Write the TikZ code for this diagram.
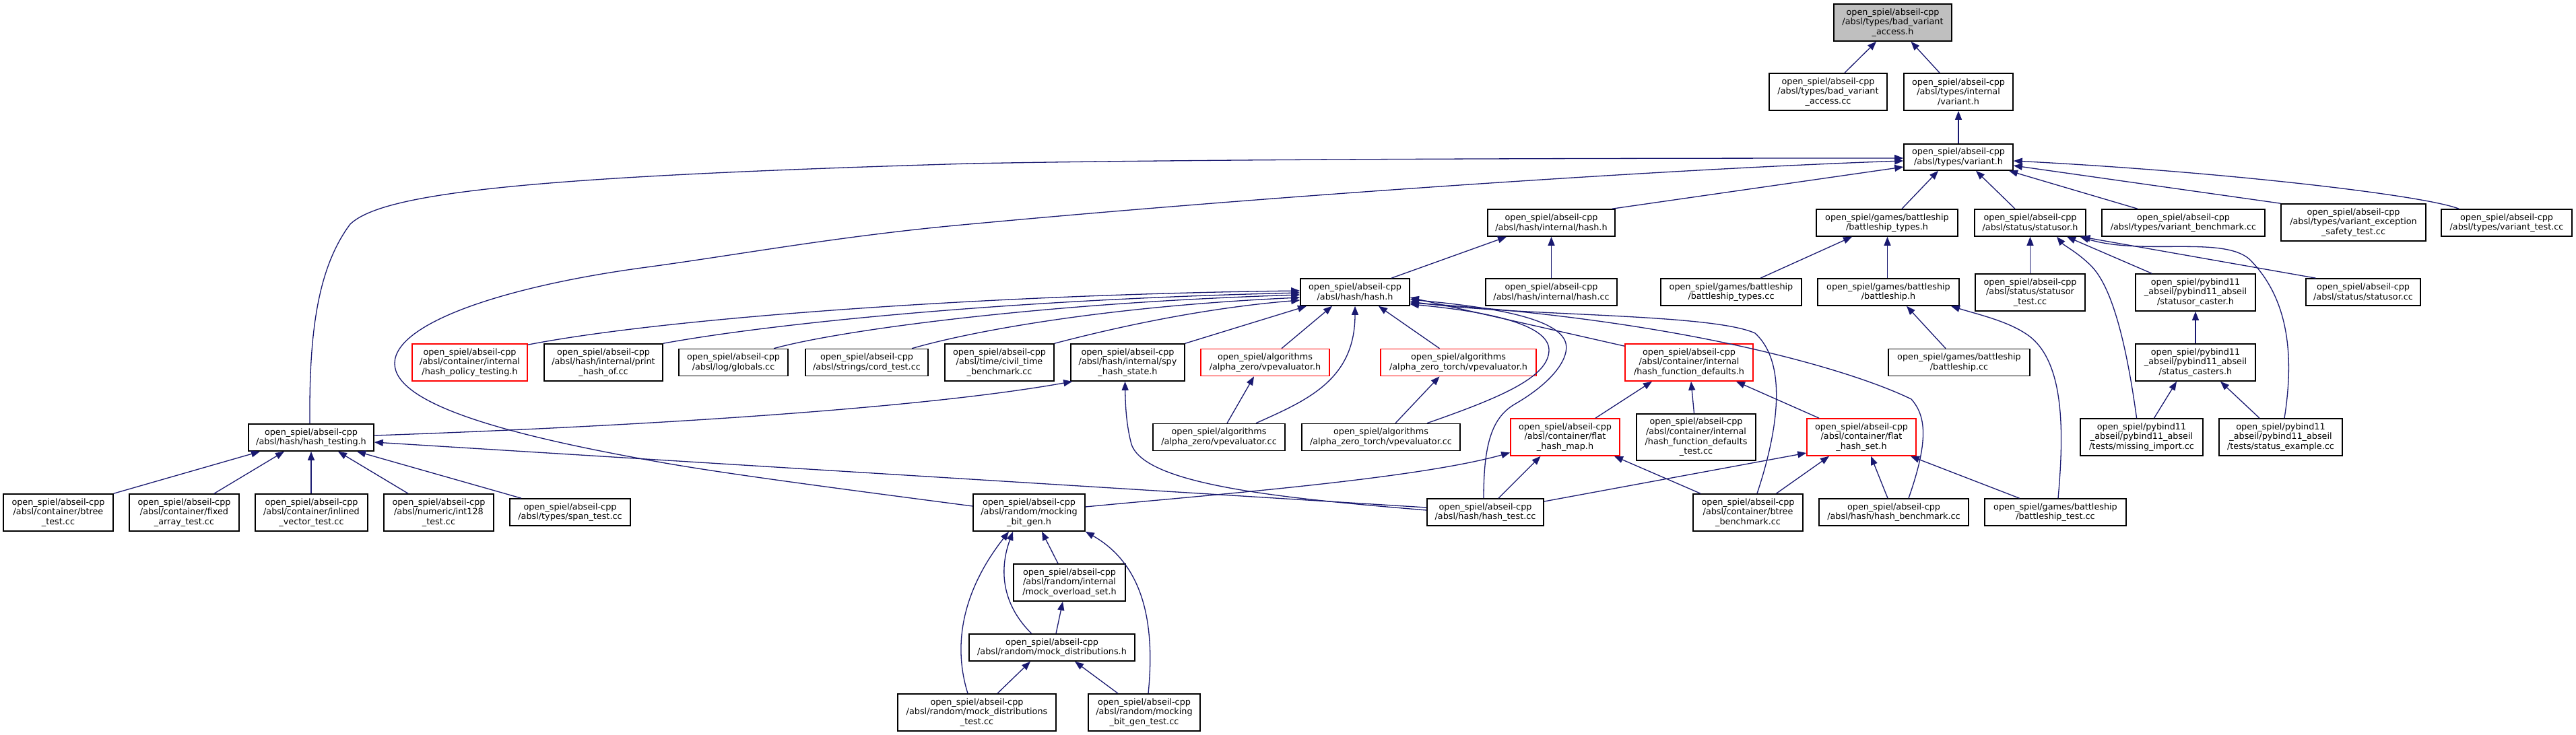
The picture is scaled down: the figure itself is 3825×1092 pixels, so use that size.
\documentclass[tikz,border=0pt]{standalone}
\usepackage{fontspec}
\setmainfont{DejaVu Sans}
\usetikzlibrary{arrows.meta}
\definecolor{edgeblue}{HTML}{191970}
\definecolor{rootgray}{HTML}{BFBFBF}
\begin{document}
\begin{tikzpicture}[x=1pt,y=-1pt,
  box/.style={draw=black, line width=1.6pt, fill=white, inner sep=0pt, align=center,
    font=\fontsize{12.8pt}{14.6pt}\selectfont, text=black},
  redbox/.style={box, draw=red},
  rootbox/.style={box, fill=rootgray},
  sz/.style 2 args={minimum width=#1pt, minimum height=#2pt},
  dep/.style={draw=edgeblue, line width=1.3pt, -{Triangle[length=13pt,width=10pt]}},
]
\useasboundingbox (0,0) rectangle (3825,1092);
\fill[white] (0,0) rectangle (3825,1092);

% rank 0-2
\node[rootbox, sz={175}{55}] (root) at (2810.5,33.5) {open\_spiel/abseil-cpp\\/absl/types/bad\_variant\\\_access.h};
\node[box, sz={175}{55}] (bvacc) at (2714.5,136.5) {open\_spiel/abseil-cpp\\/absl/types/bad\_variant\\\_access.cc};
\node[box, sz={162}{55}] (ivariant) at (2908,136.5) {open\_spiel/abseil-cpp\\/absl/types/internal\\/variant.h};
\node[box, sz={162}{39}] (variant) at (2908,233.5) {open\_spiel/abseil-cpp\\/absl/types/variant.h};
% rank 3
\node[box, sz={189}{40}] (ihash) at (2303.5,331) {open\_spiel/abseil-cpp\\/absl/hash/internal/hash.h};
\node[box, sz={210}{40}] (bsth) at (2802,331) {open\_spiel/games/battleship\\/battleship\_types.h};
\node[box, sz={165}{40}] (statusorh) at (3014.5,331) {open\_spiel/abseil-cpp\\/absl/status/statusor.h};
\node[box, sz={242}{40}] (vbench) at (3242,331) {open\_spiel/abseil-cpp\\/absl/types/variant\_benchmark.cc};
\node[box, sz={215}{55}] (vexc) at (3494.5,330.5) {open\_spiel/abseil-cpp\\/absl/types/variant\_exception\\\_safety\_test.cc};
\node[box, sz={194}{40}] (vtest) at (3722,331) {open\_spiel/abseil-cpp\\/absl/types/variant\_test.cc};
% rank 4
\node[box, sz={162}{40}] (hashh) at (2012,434) {open\_spiel/abseil-cpp\\/absl/hash/hash.h};
\node[box, sz={195}{40}] (ihashcc) at (2303.5,434) {open\_spiel/abseil-cpp\\/absl/hash/internal/hash.cc};
\node[box, sz={209}{40}] (bstcc) at (2570.5,434) {open\_spiel/games/battleship\\/battleship\_types.cc};
\node[box, sz={210}{40}] (bsh) at (2804,434) {open\_spiel/games/battleship\\/battleship.h};
\node[box, sz={163}{55}] (statusortest) at (3014.5,434.5) {open\_spiel/abseil-cpp\\/absl/status/statusor\\\_test.cc};
\node[box, sz={178}{55}] (caster) at (3260,434.5) {open\_spiel/pybind11\\\_abseil/pybind11\_abseil\\/statusor\_caster.h};
\node[box, sz={170}{40}] (statusorcc) at (3509,434) {open\_spiel/abseil-cpp\\/absl/status/statusor.cc};
% rank 5
\node[redbox, sz={171}{55}] (hpt) at (697.5,538.5) {open\_spiel/abseil-cpp\\/absl/container/internal\\/hash\_policy\_testing.h};
\node[box, sz={176}{55}] (print) at (896,538.5) {open\_spiel/abseil-cpp\\/absl/hash/internal/print\\\_hash\_of.cc};
\node[box, sz={162}{40}] (globals) at (1089,538.5) {open\_spiel/abseil-cpp\\/absl/log/globals.cc};
\node[box, sz={182}{40}] (cord) at (1287,538.5) {open\_spiel/abseil-cpp\\/absl/strings/cord\_test.cc};
\node[box, sz={162}{55}] (civil) at (1484,538.5) {open\_spiel/abseil-cpp\\/absl/time/civil\_time\\\_benchmark.cc};
\node[box, sz={169}{55}] (spy) at (1674.5,538.5) {open\_spiel/abseil-cpp\\/absl/hash/internal/spy\\\_hash\_state.h};
\node[redbox, sz={191}{40}] (azvh) at (1878.5,538.5) {open\_spiel/algorithms\\/alpha\_zero/vpevaluator.h};
\node[redbox, sz={231}{40}] (aztvh) at (2165.5,538.5) {open\_spiel/algorithms\\/alpha\_zero\_torch/vpevaluator.h};
\node[redbox, sz={190}{55}] (hfd) at (2508,538.5) {open\_spiel/abseil-cpp\\/absl/container/internal\\/hash\_function\_defaults.h};
\node[box, sz={210}{40}] (bscc) at (2909,538.5) {open\_spiel/games/battleship\\/battleship.cc};
\node[box, sz={178}{55}] (casters) at (3260,538.5) {open\_spiel/pybind11\\\_abseil/pybind11\_abseil\\/status\_casters.h};
% rank 6
\node[box, sz={186}{40}] (hashtesting) at (462,650) {open\_spiel/abseil-cpp\\/absl/hash/hash\_testing.h};
\node[box, sz={196}{40}] (azvcc) at (1810,649.5) {open\_spiel/algorithms\\/alpha\_zero/vpevaluator.cc};
\node[box, sz={235}{40}] (aztvcc) at (2050.5,649.5) {open\_spiel/algorithms\\/alpha\_zero\_torch/vpevaluator.cc};
\node[redbox, sz={162}{55}] (fhm) at (2324,649.5) {open\_spiel/abseil-cpp\\/absl/container/flat\\\_hash\_map.h};
\node[box, sz={177}{69}] (hfdt) at (2518.5,649.5) {open\_spiel/abseil-cpp\\/absl/container/internal\\/hash\_function\_defaults\\\_test.cc};
\node[redbox, sz={162}{55}] (fhs) at (2764,649.5) {open\_spiel/abseil-cpp\\/absl/container/flat\\\_hash\_set.h};
\node[box, sz={182}{55}] (missing) at (3180,649.5) {open\_spiel/pybind11\\\_abseil/pybind11\_abseil\\/tests/missing\_import.cc};
\node[box, sz={183}{55}] (example) at (3386.5,649.5) {open\_spiel/pybind11\\\_abseil/pybind11\_abseil\\/tests/status\_example.cc};
% rank 7
\node[box, sz={163}{55}] (btreetest) at (86.5,761.5) {open\_spiel/abseil-cpp\\/absl/container/btree\\\_test.cc};
\node[box, sz={163}{55}] (fixed) at (273.5,761.5) {open\_spiel/abseil-cpp\\/absl/container/fixed\\\_array\_test.cc};
\node[box, sz={167}{55}] (inlined) at (462.5,761.5) {open\_spiel/abseil-cpp\\/absl/container/inlined\\\_vector\_test.cc};
\node[box, sz={163}{55}] (int128) at (651.5,761.5) {open\_spiel/abseil-cpp\\/absl/numeric/int128\\\_test.cc};
\node[box, sz={179}{40}] (span) at (846.5,761) {open\_spiel/abseil-cpp\\/absl/types/span\_test.cc};
\node[box, sz={166}{55}] (mbg) at (1528,761.5) {open\_spiel/abseil-cpp\\/absl/random/mocking\\\_bit\_gen.h};
\node[box, sz={173}{40}] (hashtest) at (2205.5,761) {open\_spiel/abseil-cpp\\/absl/hash/hash\_test.cc};
\node[box, sz={163}{55}] (btreebench) at (2595.5,761.5) {open\_spiel/abseil-cpp\\/absl/container/btree\\\_benchmark.cc};
\node[box, sz={222}{40}] (hashbench) at (2812,761) {open\_spiel/abseil-cpp\\/absl/hash/hash\_benchmark.cc};
\node[box, sz={210}{40}] (bstest) at (3052,761) {open\_spiel/games/battleship\\/battleship\_test.cc};
% rank 8-10
\node[box, sz={166}{55}] (overload) at (1588,865.5) {open\_spiel/abseil-cpp\\/absl/random/internal\\/mock\_overload\_set.h};
\node[box, sz={246}{40}] (mockdist) at (1562,962) {open\_spiel/abseil-cpp\\/absl/random/mock\_distributions.h};
\node[box, sz={235}{55}] (mdtest) at (1450.5,1058.5) {open\_spiel/abseil-cpp\\/absl/random/mock\_distributions\\\_test.cc};
\node[box, sz={166}{55}] (mbgtest) at (1699,1058.5) {open\_spiel/abseil-cpp\\/absl/random/mocking\\\_bit\_gen\_test.cc};

% ---- edges ----
\draw[dep] ([xshift=24.5pt]bvacc.north) -- ([xshift=-24.5pt]root.south);
\draw[dep] ([xshift=-28pt]ivariant.north) -- ([xshift=27pt]root.south);
\draw[dep] (variant.north) -- (ivariant.south);

\draw[dep] ([xshift=-2pt]hashtesting.north) .. controls (459,500) and (470,400) .. (520,333) .. controls (570,285) and (800,262) .. (1440,243) .. controls (1800,236) and (2400,235) .. ([yshift=-1.5pt]variant.west);
\draw[dep] ([yshift=9.5pt]mbg.west) .. controls (1200,720) and (1050,700) .. (960,683) .. controls (750,645) and (586,600) .. (586,540) .. controls (586,480) and (750,425) .. (960,397) .. controls (1100,378) and (1250,350) .. (1440,333) .. controls (1900,290) and (2500,250) .. ([yshift=-5.5pt]variant.west);
\draw[dep] ([xshift=-5pt]ihash.north east) -- ([yshift=-14.5pt]variant.west);
\draw[dep] ([xshift=22pt]bsth.north) -- ([xshift=-30pt]variant.south);
\draw[dep] ([xshift=-22.5pt]statusorh.north) -- ([xshift=26pt]variant.south);
\draw[dep] ([xshift=-68pt]vbench.north) -- ([xshift=75pt]variant.south);
\draw[dep] (vexc.north west) -- ([yshift=-12.5pt]variant.east);
\draw[dep] ([xshift=-71pt]vtest.north) .. controls (3600,290) and (3300,255) .. ([yshift=-5.5pt]variant.east);

\draw[dep] ([xshift=54pt]hashh.north) -- ([xshift=-66.5pt]ihash.south);
\draw[dep] (ihashcc.north) -- (ihash.south);
\draw[dep] ([xshift=43.5pt]bstcc.north) -- ([xshift=-52pt]bsth.south);
\draw[dep] ([xshift=-1.5pt]bsh.north) -- ([xshift=0.5pt]bsth.south);
\draw[dep] ([xshift=-20pt]bscc.north) -- ([xshift=27pt]bsh.south);
\draw[dep] ([xshift=4pt]bstest.north) .. controls (3065,640) and (3065,540) .. (3014,500) .. controls (2985,478) and (2940,468) .. ([xshift=93pt]bsh.south);

\draw[dep] (statusortest.north) -- (statusorh.south);
\draw[dep] ([xshift=-65pt]caster.north) -- ([xshift=54.5pt]statusorh.south);
\draw[dep] ([xshift=-7.4pt]missing.north) .. controls (3160,530) and (3140,430) .. (3105,395) .. controls (3085,375) and (3065,365) .. ([xshift=39.5pt]statusorh.south);
\draw[dep] ([xshift=-70.5pt]statusorcc.north) -- ([xshift=76pt]statusorh.south);
\draw[dep] ([xshift=5.5pt]example.north) .. controls (3408,520) and (3395,440) .. (3340,385) .. controls (3300,350) and (3180,380) .. ([xshift=74pt]statusorh.south);
\draw[dep] (casters.north) -- (caster.south);
\draw[dep] ([xshift=18.5pt]missing.north) -- ([xshift=-28pt]casters.south);
\draw[dep] ([xshift=-31.5pt]example.north) -- ([xshift=37pt]casters.south);

\draw[dep] ([yshift=-2pt]hpt.north east) .. controls (1000,470) and (1500,437) .. ([yshift=2pt]hashh.west);
\draw[dep] (print.north east) .. controls (1150,480) and (1500,445) .. ([yshift=-1pt]hashh.west);
\draw[dep] ([xshift=60pt]globals.north) .. controls (1250,490) and (1550,450) .. ([yshift=-4pt]hashh.west);
\draw[dep] ([xshift=67pt]cord.north) .. controls (1450,490) and (1650,455) .. ([yshift=-8pt]hashh.west);
\draw[dep] (civil.north east) .. controls (1700,475) and (1820,455) .. ([yshift=-12pt]hashh.west);
\draw[dep] (spy.north east) -- ([xshift=-72pt]hashh.south);
\draw[dep] ([xshift=24.5pt]azvh.north) -- ([xshift=-34pt]hashh.south);
\draw[dep] ([xshift=55pt]azvcc.north) .. controls (1940,595) and (2012,565) .. (hashh.south);
\draw[dep] ([xshift=-28pt]aztvh.north) -- ([xshift=35pt]hashh.south);
\draw[dep] ([xshift=68.5pt]aztvcc.north) .. controls (2230,590) and (2300,560) .. (2300,520) .. controls (2300,480) and (2200,462) .. ([yshift=-18pt]hashh.east);
\draw[dep] ([yshift=-4pt]hfd.north west) -- ([yshift=-8pt]hashh.east);
\draw[dep] ([xshift=-2.5pt]hashtest.north) .. controls (2203,660) and (2215,620) .. (2250,600) .. controls (2310,565) and (2330,530) .. (2325,510) .. controls (2315,470) and (2200,455) .. ([yshift=-11pt]hashh.east);
\draw[dep] ([xshift=13.5pt]btreebench.north) .. controls (2640,640) and (2655,540) .. (2606,495) .. controls (2540,465) and (2250,470) .. ([yshift=-14pt]hashh.east);
\draw[dep] ([xshift=22pt]hashbench.north) .. controls (2862,660) and (2862,620) .. (2838,593) .. controls (2750,550) and (2500,475) .. ([yshift=-16pt]hashh.east);

\draw[dep] ([xshift=12pt]azvcc.north) -- ([xshift=-16.5pt]azvh.south);
\draw[dep] ([xshift=21.5pt]aztvcc.north) -- ([xshift=-28pt]aztvh.south);

\draw[dep] ([yshift=3pt]hashtesting.east) .. controls (900,635) and (1350,610) .. ([xshift=3pt]spy.south west);
\draw[dep] ([yshift=3pt]hashtest.west) .. controls (1900,740) and (1700,720) .. (1680,660) .. controls (1672,630) and (1671,600) .. ([xshift=-4pt]spy.south);

\draw[dep] (btreetest.north east) -- ([xshift=-76pt]hashtesting.south);
\draw[dep] ([xshift=44.5pt]fixed.north) -- ([xshift=-40pt]hashtesting.south);
\draw[dep] ([xshift=-0.5pt]inlined.north) -- (hashtesting.south);
\draw[dep] ([xshift=-45.5pt]int128.north) -- ([xshift=40pt]hashtesting.south);
\draw[dep] ([xshift=-72.5pt]span.north) -- ([xshift=68pt]hashtesting.south);
\draw[dep] ([yshift=7pt]hashtest.west) -- ([yshift=-7pt]hashtesting.east);

\draw[dep] ([xshift=45pt]fhm.north) -- ([xshift=-55pt]hfd.south);
\draw[dep] ([xshift=-3pt]hfdt.north) -- ([xshift=3pt]hfd.south);
\draw[dep] ([xshift=-63pt]fhs.north) -- ([xshift=70pt]hfd.south);

\draw[dep] ([yshift=8.5pt]mbg.east) .. controls (1800,735) and (2100,712) .. ([yshift=-23pt]fhm.west);
\draw[dep] ([xshift=19.5pt]hashtest.north) -- ([xshift=-36.5pt]fhm.south);
\draw[dep] ([xshift=-70.5pt]btreebench.north) -- ([xshift=73pt]fhm.south);

\draw[dep] ([yshift=16pt]hashtest.east) -- ([yshift=-23.5pt]fhs.west);
\draw[dep] ([xshift=42pt]btreebench.north) -- ([xshift=-48pt]fhs.south);
\draw[dep] ([xshift=-9pt]hashbench.north) -- ([xshift=14pt]fhs.south);
\draw[dep] ([xshift=-53.5pt]bstest.north) -- ([xshift=73pt]fhs.south);

\draw[dep] ([xshift=-17pt]overload.north) -- ([xshift=19pt]mbg.south);
\draw[dep] ([xshift=-30.4pt]mockdist.north) .. controls (1490,900) and (1482,850) .. ([xshift=-24pt]mbg.south);
\draw[dep] ([xshift=-13.5pt]mdtest.north) .. controls (1412,950) and (1435,870) .. ([xshift=-30pt]mbg.south);
\draw[dep] ([xshift=6pt]mbgtest.north) .. controls (1715,930) and (1700,840) .. (mbg.south east);
\draw[dep] ([xshift=6pt]mockdist.north) -- ([xshift=-10pt]overload.south);
\draw[dep] ([xshift=30.5pt]mdtest.north) -- ([xshift=-32pt]mockdist.south);
\draw[dep] ([xshift=-39pt]mbgtest.north) -- ([xshift=34pt]mockdist.south);
\end{tikzpicture}
\end{document}
